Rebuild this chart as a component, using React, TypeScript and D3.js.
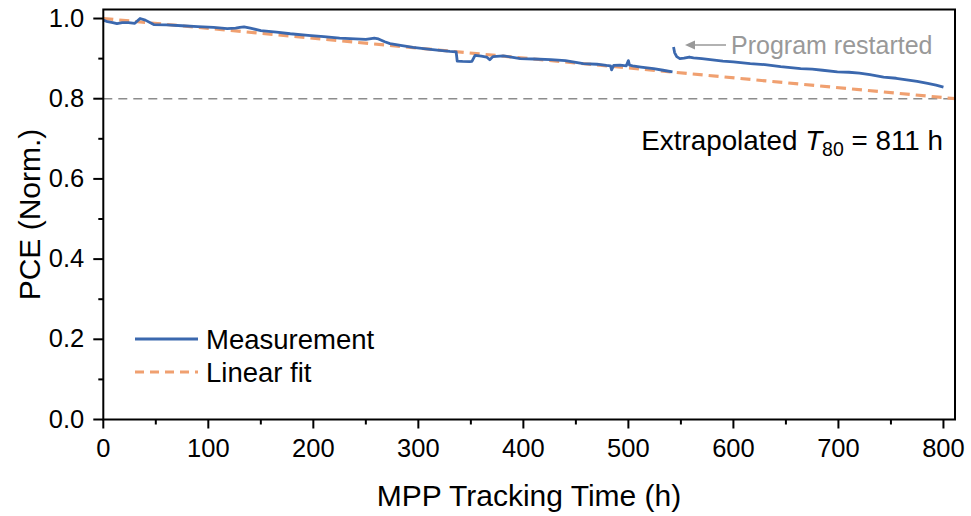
import React from "react";
import * as d3 from "d3";

const timeSeg1 = [0, 4, 9, 13, 18, 24, 30, 35, 40, 48, 60, 75, 90, 105, 118, 126, 130, 134, 140, 150, 165, 178, 195, 210, 225, 240, 250, 255, 258, 262, 268, 273, 283, 295, 305, 318, 330, 336, 337, 342, 349, 351, 354, 360, 365, 368, 371, 381, 390, 397, 410, 426, 440, 457, 470, 479, 483, 484, 486, 492, 498, 500, 501, 504, 512, 524, 533, 542];
const pceSeg1 = [0.996, 0.992, 0.99, 0.9875, 0.99, 0.99, 0.988, 1.0, 0.996, 0.985, 0.984, 0.982, 0.98, 0.978, 0.975, 0.976, 0.978, 0.979, 0.976, 0.97, 0.966, 0.962, 0.958, 0.955, 0.951, 0.949, 0.948, 0.95, 0.951, 0.949, 0.942, 0.9375, 0.933, 0.928, 0.925, 0.921, 0.918, 0.917, 0.894, 0.893, 0.8925, 0.893, 0.908, 0.906, 0.904, 0.897, 0.905, 0.907, 0.903, 0.9, 0.899, 0.8975, 0.895, 0.8875, 0.886, 0.883, 0.882, 0.872, 0.883, 0.884, 0.882, 0.895, 0.884, 0.882, 0.879, 0.875, 0.871, 0.867];

const timeSeg2 = [543, 544, 546, 549, 553, 558, 562, 570, 580, 590, 600, 616, 630, 645, 664, 675, 685, 699, 710, 720, 730, 743, 755, 765, 775, 785, 793, 800];
const pceSeg2 = [0.929, 0.915, 0.905, 0.9, 0.901, 0.904, 0.902, 0.9, 0.897, 0.894, 0.892, 0.8875, 0.885, 0.88, 0.875, 0.874, 0.871, 0.867, 0.866, 0.864, 0.86, 0.854, 0.851, 0.847, 0.843, 0.838, 0.834, 0.829];

const fitTime = [0, 811];
const fitPce = [1.0, 0.8];

const xTicks = [0, 100, 200, 300, 400, 500, 600, 700, 800];
const xMinor = [50, 150, 250, 350, 450, 550, 650, 750];
const yTicks = [0.0, 0.2, 0.4, 0.6, 0.8, 1.0];
const yMinor = [0.1, 0.3, 0.5, 0.7, 0.9];

const BLUE = "#3b68ae";
const ORANGE = "#f0a070";
const GRAY = "#8c8c8c";
const FONT = "'Liberation Sans', Arial, sans-serif";

export default function App() {
  const W = 971, H = 516;
  const left = 103.3, right = 955, top = 9.5, bottom = 419.5;
  const x = d3.scaleLinear().domain([0, 811]).range([left, right]);
  const y = d3.scaleLinear().domain([0, 1.0225]).range([bottom, top]);

  const line = d3.line<[number, number]>().x(d => x(d[0])).y(d => y(d[1]));
  const seg1 = line(timeSeg1.map((t, i) => [t, pceSeg1[i]]))!;
  const seg2 = line(timeSeg2.map((t, i) => [t, pceSeg2[i]]))!;
  const fit = line(fitTime.map((t, i) => [t, fitPce[i]]))!;

  return (
    <svg width={W} height={H} style={{ position: "absolute", left: 0, top: 0, background: "#fff" }} fontFamily={FONT}>
      <defs>
        <clipPath id="plotclip">
          <rect x={left} y={top} width={right - left} height={bottom - top} />
        </clipPath>
      </defs>
      {/* 0.8 reference */}
      <line x1={left} x2={right} y1={y(0.8)} y2={y(0.8)} stroke={GRAY} strokeWidth={1.6} strokeDasharray="9 6" />
      <g clipPath="url(#plotclip)">
        <path d={fit} fill="none" stroke={ORANGE} strokeWidth={3.2} strokeDasharray="10 6" />
        <path d={seg1} fill="none" stroke={BLUE} strokeWidth={2.8} strokeLinejoin="round" />
        <path d={seg2} fill="none" stroke={BLUE} strokeWidth={2.8} strokeLinejoin="round" />
      </g>
      {/* frame */}
      <rect x={left} y={top} width={right - left} height={bottom - top} fill="none" stroke="#000" strokeWidth={2} />
      {/* x ticks */}
      {xTicks.map(t => (
        <g key={"xt" + t}>
          <line x1={x(t)} x2={x(t)} y1={bottom} y2={bottom + 9} stroke="#000" strokeWidth={2} />
          <text x={x(t)} y={bottom + 37} textAnchor="middle" fontSize={25.5} fill="#000">{t}</text>
        </g>
      ))}
      {xMinor.map(t => (
        <line key={"xm" + t} x1={x(t)} x2={x(t)} y1={bottom} y2={bottom + 5} stroke="#000" strokeWidth={2} />
      ))}
      {yTicks.map(t => (
        <g key={"yt" + t}>
          <line x1={left} x2={left - 10} y1={y(t)} y2={y(t)} stroke="#000" strokeWidth={2} />
          <text x={left - 19} y={y(t) + 8} textAnchor="end" fontSize={25.5} fill="#000">{t.toFixed(1)}</text>
        </g>
      ))}
      {yMinor.map(t => (
        <line key={"ym" + t} x1={left} x2={left - 5} y1={y(t)} y2={y(t)} stroke="#000" strokeWidth={2} />
      ))}
      {/* axis titles */}
      <text x={529} y={506} textAnchor="middle" fontSize={30} fill="#000">MPP Tracking Time (h)</text>
      <text transform={`translate(40,${(top + bottom) / 2}) rotate(-90)`} textAnchor="middle" fontSize={30} fill="#000">PCE (Norm.)</text>
      {/* legend */}
      <line x1={135} x2={198} y1={339} y2={339} stroke={BLUE} strokeWidth={2.8} />
      <text x={206} y={348.5} fontSize={27.5} fill="#000">Measurement</text>
      <line x1={135} x2={198} y1={372} y2={372} stroke={ORANGE} strokeWidth={3.2} strokeDasharray="9 6" />
      <text x={206} y={381.5} fontSize={27.5} fill="#000">Linear fit</text>
      {/* annotations */}
      <line x1={692} x2={726} y1={45} y2={45} stroke="#999" strokeWidth={1.5} />
      <path d="M685,45 L695,40.5 L695,49.5 Z" fill="#999" />
      <text x={731} y={53.5} fontSize={25} fill="#999">Program restarted</text>
      <text x={943} y={150} textAnchor="end" fontSize={27.8} fill="#000">
        Extrapolated <tspan fontStyle="italic">T</tspan><tspan fontSize={19.5} dy={6}>80</tspan><tspan dy={-6}> = 811 h</tspan>
      </text>
    </svg>
  );
}
